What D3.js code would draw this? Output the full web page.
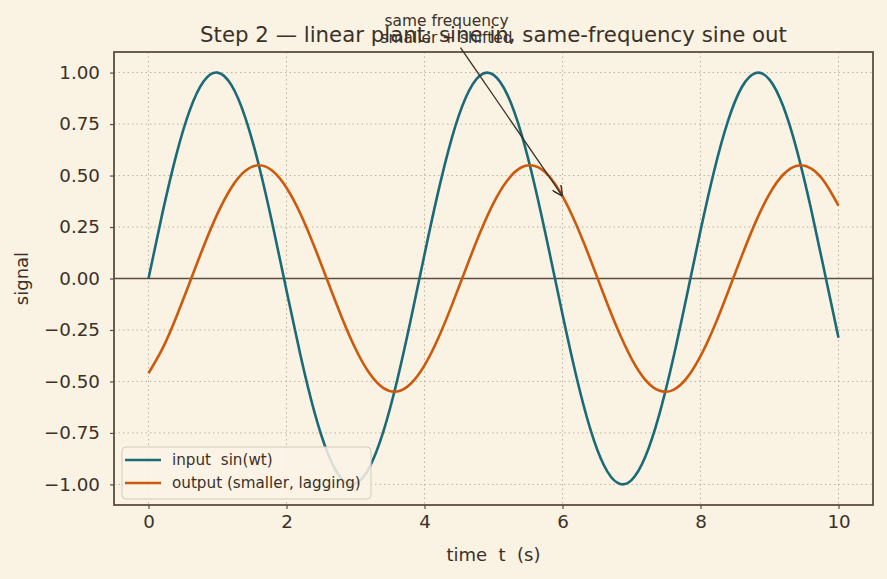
<!DOCTYPE html>
<html>
<head>
<meta charset="utf-8">
<script src="https://cdn.jsdelivr.net/npm/d3@7"></script>
<style>
  body { margin: 0; background: #faf2e3; }
  svg { display: block; font-family: "DejaVu Sans", sans-serif; }
</style>
</head>
<body>
<div id="chart"></div>
<script>
// sampled every 0.2 s, 0..10
const times = d3.range(0, 51).map(i => +(i * 0.2).toFixed(1));
const inputSignal = [
  0.000, 0.315, 0.597, 0.819, 0.958, 1.000, 0.940, 0.784, 0.549, 0.259,
  -0.058, -0.369, -0.643, -0.851, -0.973, -0.996, -0.918, -0.747, -0.500, -0.202,
  0.117, 0.423, 0.687, 0.880, 0.985, 0.989, 0.893, 0.707, 0.448, 0.144,
  -0.174, -0.475, -0.728, -0.907, -0.993, -0.979, -0.866, -0.664, -0.395, -0.086,
  0.232, 0.526, 0.767, 0.930, 0.998, 0.966, 0.835, 0.619, 0.341, 0.028,
  -0.288
];
const outputSignal = [
  -0.460, -0.342, -0.189, -0.017, 0.157, 0.315, 0.441, 0.522, 0.550, 0.522,
  0.441, 0.316, 0.158, -0.016, -0.188, -0.341, -0.459, -0.531, -0.549, -0.511,
  -0.422, -0.289, -0.127, 0.048, 0.218, 0.366, 0.476, 0.539, 0.546, 0.499,
  0.400, 0.261, 0.096, -0.080, -0.247, -0.389, -0.492, -0.544, -0.542, -0.484,
  -0.377, -0.233, -0.064, 0.111, 0.275, 0.411, 0.505, 0.548, 0.535, 0.468,
  0.354
];
const seriesNames = ["input  sin(wt)", "output (smaller, lagging)"];
const seriesColors = ["#1a6a78", "#cc5a0c"];
const xTicks = [0, 2, 4, 6, 8, 10];
const yTicks = [1.0, 0.75, 0.5, 0.25, 0, -0.25, -0.5, -0.75, -1.0];
const annotationLines = ["same frequency", "smaller + shifted"];
const annotationTarget = { t: 6.0, v: outputSignal[30] };
const annotationText = { t: 4.32, v: 1.22 };

const width = 887, height = 579;
const margin = { left: 114, right: 14, top: 52, bottom: 74 };
const ink = "#3b3128", spine = "#5a4e40";

const svg = d3.select("#chart").append("svg")
  .attr("width", width).attr("height", height);
svg.append("rect").attr("width", width).attr("height", height).attr("fill", "#faf2e3");

const x = d3.scaleLinear().domain([-0.5, 10.5]).range([margin.left, width - margin.right]);
const y = d3.scaleLinear().domain([-1.1, 1.1]).range([height - margin.bottom, margin.top]);

// grid
svg.append("g").selectAll("line").data(xTicks).join("line")
  .attr("x1", d => x(d)).attr("x2", d => x(d))
  .attr("y1", margin.top).attr("y2", height - margin.bottom)
  .attr("stroke", "#bfb3a0").attr("stroke-width", 1).attr("stroke-dasharray", "1.5,3");
svg.append("g").selectAll("line").data(yTicks).join("line")
  .attr("x1", margin.left).attr("x2", width - margin.right)
  .attr("y1", d => y(d)).attr("y2", d => y(d))
  .attr("stroke", "#bfb3a0").attr("stroke-width", 1).attr("stroke-dasharray", "1.5,3");

// zero line
svg.append("line")
  .attr("x1", margin.left).attr("x2", width - margin.right)
  .attr("y1", y(0)).attr("y2", y(0))
  .attr("stroke", spine).attr("stroke-width", 1.3);

const line = d3.line().curve(d3.curveNatural);
const plot = svg.append("g");
[inputSignal, outputSignal].forEach((vals, i) => {
  plot.append("path")
    .attr("d", line(times.map((t, j) => [x(t), y(vals[j])])))
    .attr("fill", "none").attr("stroke", seriesColors[i]).attr("stroke-width", 2.6);
});

// axes
const xAxis = svg.append("g").attr("transform", `translate(0,${height - margin.bottom})`)
  .call(d3.axisBottom(x).tickValues(xTicks).tickSize(4).tickPadding(6).tickFormat(d3.format("d")));
const yAxis = svg.append("g").attr("transform", `translate(${margin.left},0)`)
  .call(d3.axisLeft(y).tickValues(yTicks).tickSize(4).tickPadding(10)
    .tickFormat(d => d3.format(".2f")(d).replace("-", "\u2212")));
[xAxis, yAxis].forEach(a => {
  a.select(".domain").remove();
  a.selectAll("line").attr("stroke", spine).attr("stroke-width", 1.2);
  a.selectAll("text").attr("fill", ink).attr("font-size", 18.3)
    .attr("font-family", "DejaVu Sans");
});

// frame
svg.append("rect")
  .attr("x", margin.left).attr("y", margin.top)
  .attr("width", width - margin.left - margin.right)
  .attr("height", height - margin.bottom - margin.top)
  .attr("fill", "none").attr("stroke", spine).attr("stroke-width", 1.8);

// labels
svg.append("text").attr("x", (margin.left + width - margin.right) / 2).attr("y", 42)
  .attr("text-anchor", "middle").attr("font-size", 21.3).attr("fill", ink)
  .text("Step 2 \u2014 linear plant: sine in, same-frequency sine out");
svg.append("text").attr("x", (margin.left + width - margin.right) / 2).attr("y", 561)
  .attr("text-anchor", "middle").attr("font-size", 18).attr("fill", ink)
  .attr("xml:space", "preserve").style("white-space", "pre")
  .text("time  t  (s)");
svg.append("text").attr("transform", `translate(28,${y(0)}) rotate(-90)`)
  .attr("text-anchor", "middle").attr("font-size", 18).attr("fill", ink)
  .text("signal");

// annotation
const ax = x(annotationText.t), ay = y(annotationText.v);
const tx = x(annotationTarget.t), ty = y(annotationTarget.v);
svg.append("defs").append("marker")
  .attr("id", "arrow").attr("viewBox", "0 0 10 10").attr("refX", 10).attr("refY", 5)
  .attr("markerWidth", 8).attr("markerHeight", 8).attr("orient", "auto")
  .append("path").attr("d", "M0,0 L10,5 L0,10").attr("fill", "none")
  .attr("stroke", ink).attr("stroke-width", 1.4);
const sx = ax + (tx - ax) * 0.12, sy = ay + (ty - ay) * 0.12;
svg.append("line").attr("x1", sx).attr("y1", sy).attr("x2", tx).attr("y2", ty)
  .attr("stroke", ink).attr("stroke-width", 1.3).attr("marker-end", "url(#arrow)");
svg.append("text").attr("x", ax).attr("y", 26)
  .attr("text-anchor", "middle").attr("font-size", 15.4).attr("fill", ink)
  .selectAll("tspan").data(annotationLines).join("tspan")
  .attr("x", ax).attr("dy", (d, i) => i ? 17 : 0).text(d => d);

// legend
const lg = svg.append("g").attr("transform", "translate(122,447)");
lg.append("rect").attr("width", 249).attr("height", 52).attr("rx", 4)
  .attr("fill", "#faf3e6").attr("fill-opacity", 0.85)
  .attr("stroke", "#d3cbbd").attr("stroke-width", 1);
seriesNames.forEach((name, i) => {
  const yy = 13 + i * 23;
  lg.append("line").attr("x1", 3).attr("x2", 39).attr("y1", yy).attr("y2", yy)
    .attr("stroke", seriesColors[i]).attr("stroke-width", 2.6);
  lg.append("text").attr("x", 50).attr("y", yy + 5).attr("font-size", 15.2)
    .attr("fill", ink).attr("xml:space", "preserve").style("white-space", "pre").text(name);
});
</script>
</body>
</html>
